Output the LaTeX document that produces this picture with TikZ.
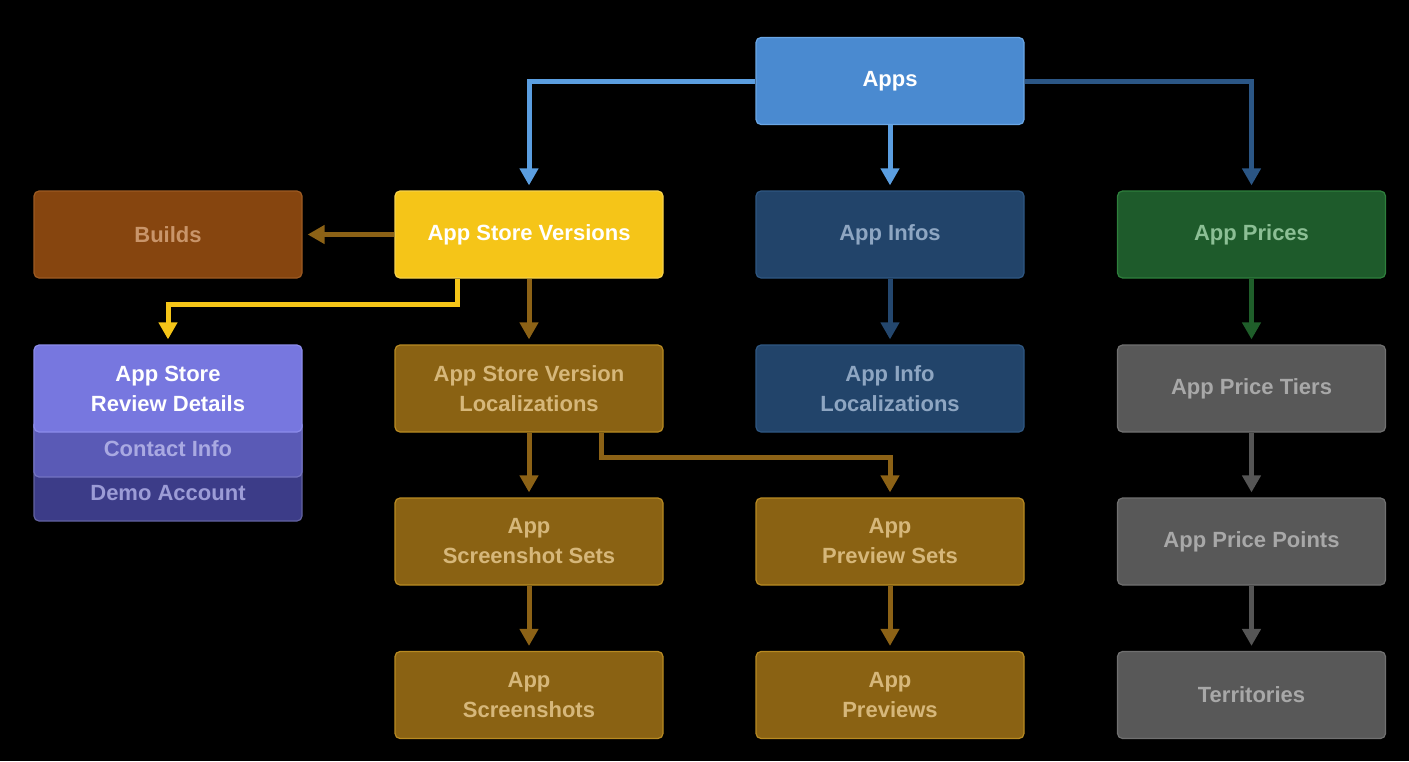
\documentclass[tikz,border=0pt]{standalone}
\usepackage{fontspec}
\setmainfont{Liberation Sans}
\usetikzlibrary{arrows.meta}
\definecolor{appsF}{HTML}{4A8AD0}\definecolor{appsD}{HTML}{6AA6E4}
\definecolor{asvF}{HTML}{F5C518}\definecolor{asvD}{HTML}{F8D24A}
\definecolor{bldF}{HTML}{86450F}\definecolor{bldD}{HTML}{9C5A22}\definecolor{bldT}{HTML}{C9956A}
\definecolor{infF}{HTML}{22446A}\definecolor{infD}{HTML}{2F5782}\definecolor{infT}{HTML}{8EA6C2}
\definecolor{prcF}{HTML}{1E5B2B}\definecolor{prcD}{HTML}{2E7F3C}\definecolor{prcT}{HTML}{8CBF95}
\definecolor{gldF}{HTML}{8A6213}\definecolor{gldD}{HTML}{B88A22}\definecolor{gldT}{HTML}{D6B77A}
\definecolor{gryF}{HTML}{585858}\definecolor{gryD}{HTML}{707070}\definecolor{gryT}{HTML}{A8A8A8}
\definecolor{revF}{HTML}{7777DF}\definecolor{revD}{HTML}{8C8CEA}
\definecolor{conF}{HTML}{5A5AB6}\definecolor{conT}{HTML}{A9A9E2}
\definecolor{demF}{HTML}{3C3C88}\definecolor{demT}{HTML}{9C9CD6}
\definecolor{lbA}{HTML}{5B9EE0}\definecolor{dbA}{HTML}{2B5685}
\definecolor{brA}{HTML}{8C6216}\definecolor{yeA}{HTML}{F5C518}
\definecolor{ibA}{HTML}{24476E}\definecolor{grA}{HTML}{1F5E2A}\definecolor{gyA}{HTML}{555555}
\tikzset{
  box/.style={rectangle, rounded corners=5pt, minimum width=268pt, minimum height=87pt,
    line width=1.2pt, align=center, font=\fontsize{22}{30}\selectfont\bfseries, inner sep=0pt},
  appsbox/.style={box, fill=appsF, draw=appsD, text=white},
  asvbox/.style={box, fill=asvF, draw=asvD, text=white},
  bldbox/.style={box, fill=bldF, draw=bldD, text=bldT},
  infbox/.style={box, fill=infF, draw=infD, text=infT},
  prcbox/.style={box, fill=prcF, draw=prcD, text=prcT},
  gldbox/.style={box, fill=gldF, draw=gldD, text=gldT},
  grybox/.style={box, fill=gryF, draw=gryD, text=gryT},
  revbox/.style={box, fill=revF, draw=revD, text=white},
  subbox/.style={rectangle, rounded corners=5pt, minimum width=268pt, line width=1.2pt, inner sep=0pt},
  subtext/.style={font=\fontsize{22}{26}\selectfont\bfseries, inner sep=0pt},
  conn/.style={line width=5pt, -{Triangle[width=18pt,length=17pt]}, shorten >=5pt},
}
\begin{document}
\begin{tikzpicture}[x=1pt,y=-1pt]
\fill[black] (0,0) rectangle (1409,761);
\useasboundingbox (0,0) rectangle (1409,761);
% nodes
\node[appsbox] (apps) at (890,81) {Apps};
\node[bldbox] (builds) at (168,234.5) {Builds};
\node[asvbox] (asv) at (529,234.5) {App Store Versions};
\node[infbox] (infos) at (890,234.5) {App Infos};
\node[prcbox] (prices) at (1251.5,234.5) {App Prices};
% review stack
\node[subbox, fill=demF, draw=demF!80!white, minimum height=101pt] (demo) at (168,470.5) {};
\node[subtext, text=demT] (demot) at (168,493) {Demo Account};
\node[subbox, fill=conF, draw=conF!85!white, minimum height=57pt] (contact) at (168,448.5) {};
\node[subtext, text=conT] (contactt) at (168,449) {Contact Info};
\node[revbox] (rev) at (168,388.5) {App Store\\Review Details};
\node[gldbox] (loc) at (529,388.5) {App Store Version\\Localizations};
\node[infbox] (infloc) at (890,388.5) {App Info\\Localizations};
\node[grybox] (tiers) at (1251.5,388.5) {App Price Tiers};
\node[gldbox] (shsets) at (529,541.5) {App\\Screenshot Sets};
\node[gldbox] (prsets) at (890,541.5) {App\\Preview Sets};
\node[grybox] (points) at (1251.5,541.5) {App Price Points};
\node[gldbox] (shots) at (529,695) {App\\Screenshots};
\node[gldbox] (previews) at (890,695) {App\\Previews};
\node[grybox] (terr) at (1251.5,695) {Territories};
% connectors
\draw[conn, lbA] (apps.west) -| (asv.north);
\draw[conn, lbA] (apps.south) -- (infos.north);
\draw[conn, dbA] (apps.east) -| (prices.north);
\draw[conn, brA] (asv.west) -- (builds.east);
\draw[conn, yeA] ([xshift=-72pt]asv.south) -- ++(0,26) -| (rev.north);
\draw[conn, brA] (asv.south) -- (loc.north);
\draw[conn, brA] (loc.south) -- (shsets.north);
\draw[conn, brA] ([xshift=72pt]loc.south) -- ++(0,25) -| (prsets.north);
\draw[conn, brA] (shsets.south) -- (shots.north);
\draw[conn, brA] (prsets.south) -- (previews.north);
\draw[conn, ibA] (infos.south) -- (infloc.north);
\draw[conn, grA] (prices.south) -- (tiers.north);
\draw[conn, gyA] (tiers.south) -- (points.north);
\draw[conn, gyA] (points.south) -- (terr.north);
\end{tikzpicture}
\end{document}
